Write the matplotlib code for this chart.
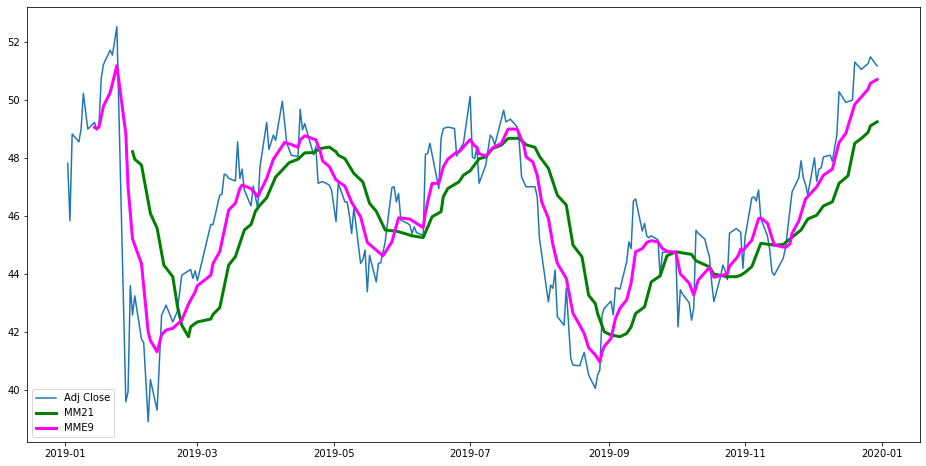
import matplotlib
matplotlib.use('Agg')
import matplotlib.pyplot as plt
import matplotlib.dates as mdates
import pandas as pd

# Adj Close (2019)
close_dates = [
    '2019-01-02', '2019-01-03', '2019-01-04', '2019-01-07', '2019-01-08', '2019-01-09', '2019-01-11',
    '2019-01-14', '2019-01-15', '2019-01-16', '2019-01-17', '2019-01-18', '2019-01-21', '2019-01-22',
    '2019-01-24', '2019-01-28', '2019-01-29', '2019-01-30', '2019-01-31', '2019-02-01', '2019-02-04',
    '2019-02-05', '2019-02-07', '2019-02-08', '2019-02-11', '2019-02-13', '2019-02-15', '2019-02-18',
    '2019-02-20', '2019-02-22', '2019-02-26', '2019-02-27', '2019-02-28', '2019-03-01', '2019-03-07',
    '2019-03-08', '2019-03-11', '2019-03-12', '2019-03-13', '2019-03-14', '2019-03-15', '2019-03-18',
    '2019-03-19', '2019-03-20', '2019-03-21', '2019-03-22', '2019-03-25', '2019-03-26', '2019-03-28',
    '2019-03-29', '2019-04-01', '2019-04-02', '2019-04-04', '2019-04-05', '2019-04-08', '2019-04-10',
    '2019-04-12', '2019-04-15', '2019-04-16', '2019-04-17', '2019-04-18', '2019-04-22', '2019-04-23',
    '2019-04-24', '2019-04-26', '2019-04-29', '2019-04-30', '2019-05-02', '2019-05-03', '2019-05-06',
    '2019-05-07', '2019-05-08', '2019-05-09', '2019-05-10', '2019-05-13', '2019-05-14', '2019-05-15',
    '2019-05-16', '2019-05-17', '2019-05-20', '2019-05-21', '2019-05-22', '2019-05-24', '2019-05-27',
    '2019-05-28', '2019-05-29', '2019-05-30', '2019-05-31', '2019-06-03', '2019-06-04', '2019-06-05',
    '2019-06-06', '2019-06-07', '2019-06-10', '2019-06-11', '2019-06-12', '2019-06-13', '2019-06-17',
    '2019-06-18', '2019-06-19', '2019-06-21', '2019-06-24', '2019-06-25', '2019-06-26', '2019-06-28',
    '2019-07-01', '2019-07-02', '2019-07-03', '2019-07-04', '2019-07-05', '2019-07-08', '2019-07-10',
    '2019-07-11', '2019-07-12', '2019-07-16', '2019-07-17', '2019-07-19', '2019-07-22', '2019-07-23',
    '2019-07-24', '2019-07-26', '2019-07-29', '2019-07-30', '2019-07-31', '2019-08-01', '2019-08-05',
    '2019-08-06', '2019-08-07', '2019-08-08', '2019-08-09', '2019-08-12', '2019-08-13', '2019-08-15',
    '2019-08-16', '2019-08-19', '2019-08-21', '2019-08-23', '2019-08-26', '2019-08-27', '2019-08-28',
    '2019-08-29', '2019-08-30', '2019-09-02', '2019-09-03', '2019-09-04', '2019-09-05', '2019-09-06',
    '2019-09-09', '2019-09-10', '2019-09-11', '2019-09-12', '2019-09-13', '2019-09-16', '2019-09-17',
    '2019-09-18', '2019-09-19', '2019-09-20', '2019-09-23', '2019-09-24', '2019-09-25', '2019-09-26',
    '2019-09-27', '2019-09-30', '2019-10-01', '2019-10-02', '2019-10-03', '2019-10-04', '2019-10-07',
    '2019-10-08', '2019-10-09', '2019-10-10', '2019-10-11', '2019-10-14', '2019-10-15', '2019-10-16',
    '2019-10-17', '2019-10-18', '2019-10-21', '2019-10-22', '2019-10-23', '2019-10-24', '2019-10-25',
    '2019-10-28', '2019-10-29', '2019-10-30', '2019-10-31', '2019-11-01', '2019-11-04', '2019-11-05',
    '2019-11-06', '2019-11-07', '2019-11-08', '2019-11-11', '2019-11-12', '2019-11-13', '2019-11-14',
    '2019-11-18', '2019-11-19', '2019-11-22', '2019-11-25', '2019-11-26', '2019-11-27', '2019-11-28',
    '2019-11-29', '2019-12-02', '2019-12-03', '2019-12-04', '2019-12-05', '2019-12-06', '2019-12-09',
    '2019-12-10', '2019-12-12', '2019-12-13', '2019-12-16', '2019-12-19', '2019-12-20', '2019-12-23',
    '2019-12-26', '2019-12-27', '2019-12-30',
]
close_values = [
    47.81, 45.83, 48.82, 48.55, 49.00, 50.22, 48.99,
    49.22, 48.96, 49.13, 50.74, 51.22, 51.71, 51.54,
    52.52, 39.59, 39.93, 43.59, 42.58, 43.24, 41.75,
    41.62, 38.90, 40.35, 39.30, 42.57, 42.92, 42.34,
    42.69, 43.95, 44.15, 43.84, 44.10, 43.76, 45.70,
    45.70, 46.71, 46.75, 47.44, 47.40, 47.29, 47.20,
    48.55, 47.29, 47.61, 46.89, 46.34, 47.03, 46.25,
    47.69, 49.22, 48.29, 48.78, 48.60, 49.95, 48.50,
    48.09, 48.04, 49.67, 48.96, 49.18, 48.10, 48.39,
    47.12, 47.18, 47.06, 46.89, 45.80, 47.12, 46.48,
    46.48, 46.02, 45.39, 46.28, 44.36, 44.48, 44.82,
    43.38, 44.64, 43.72, 44.36, 44.38, 45.10, 46.97,
    47.00, 46.48, 46.77, 45.85, 45.74, 45.68, 45.39,
    45.62, 45.42, 45.33, 48.12, 48.15, 48.50, 46.94,
    48.67, 49.01, 49.06, 49.01, 48.06, 48.24, 48.50,
    50.12, 48.03, 47.97, 48.36, 47.12, 47.75, 48.78,
    48.69, 48.44, 49.64, 49.24, 49.33, 49.07, 48.50,
    47.34, 47.00, 47.00, 47.00, 46.66, 45.22, 43.03,
    43.61, 43.50, 44.13, 42.52, 42.23, 43.50, 41.08,
    40.85, 40.83, 41.29, 40.51, 40.05, 40.51, 40.68,
    42.58, 42.81, 43.06, 42.58, 43.52, 43.50, 43.47,
    44.41, 45.10, 44.87, 46.51, 46.58, 45.47, 45.74,
    45.30, 45.24, 45.31, 45.17, 43.90, 44.74, 44.74,
    44.74, 44.74, 44.74, 42.17, 43.45, 43.30, 43.00,
    42.40, 42.81, 45.50, 45.40, 45.19, 44.87, 44.60,
    43.72, 43.04, 43.90, 44.30, 44.13, 43.80, 45.40,
    45.56, 45.50, 45.43, 44.19, 45.28, 46.62, 46.65,
    46.51, 46.89, 45.91, 45.30, 44.82, 44.07, 43.95,
    44.53, 44.87, 46.83, 47.31, 47.90, 47.31, 47.08,
    46.72, 48.00, 47.18, 47.61, 47.65, 48.03, 48.09,
    47.88, 48.78, 50.28, 49.91, 49.99, 51.30, 51.05,
    51.25, 51.48, 51.17,
]

# MM21 (21-day moving average)
mm21_dates = [
    '2019-01-31', '2019-02-01', '2019-02-04', '2019-02-08', '2019-02-11', '2019-02-14', '2019-02-18',
    '2019-02-20', '2019-02-22', '2019-02-25', '2019-02-26', '2019-02-27', '2019-03-01', '2019-03-07',
    '2019-03-08', '2019-03-11', '2019-03-15', '2019-03-18', '2019-03-22', '2019-03-25', '2019-03-27',
    '2019-03-29', '2019-04-01', '2019-04-05', '2019-04-08', '2019-04-11', '2019-04-15', '2019-04-18',
    '2019-04-22', '2019-04-25', '2019-04-29', '2019-05-02', '2019-05-03', '2019-05-06', '2019-05-10',
    '2019-05-14', '2019-05-17', '2019-05-20', '2019-05-24', '2019-05-29', '2019-05-31', '2019-06-05',
    '2019-06-10', '2019-06-14', '2019-06-18', '2019-06-19', '2019-06-21', '2019-06-26', '2019-06-28',
    '2019-07-01', '2019-07-05', '2019-07-08', '2019-07-11', '2019-07-15', '2019-07-18', '2019-07-23',
    '2019-07-26', '2019-07-30', '2019-08-01', '2019-08-05', '2019-08-09', '2019-08-13', '2019-08-16',
    '2019-08-20', '2019-08-23', '2019-08-26', '2019-08-27', '2019-08-30', '2019-09-02', '2019-09-06',
    '2019-09-09', '2019-09-11', '2019-09-13', '2019-09-17', '2019-09-20', '2019-09-24', '2019-09-27',
    '2019-10-01', '2019-10-04', '2019-10-08', '2019-10-10', '2019-10-16', '2019-10-18', '2019-10-24',
    '2019-10-28', '2019-10-30', '2019-11-01', '2019-11-04', '2019-11-08', '2019-11-14', '2019-11-18',
    '2019-11-21', '2019-11-26', '2019-11-29', '2019-12-03', '2019-12-06', '2019-12-10', '2019-12-13',
    '2019-12-17', '2019-12-20', '2019-12-23', '2019-12-26', '2019-12-27', '2019-12-30',
]
mm21_values = [
    48.21, 47.95, 47.75, 46.08, 45.57, 44.30, 43.90,
    42.92, 42.23, 41.83, 42.17, 42.23, 42.34, 42.44,
    42.60, 42.83, 44.30, 44.59, 45.51, 45.70, 46.16,
    46.37, 46.62, 47.34, 47.58, 47.83, 47.95, 48.17,
    48.18, 48.32, 48.37, 48.21, 48.09, 47.97, 47.46,
    47.17, 46.43, 46.16, 45.51, 45.47, 45.43, 45.31,
    45.25, 45.97, 46.14, 46.66, 46.94, 47.17, 47.40,
    47.55, 47.97, 48.03, 48.32, 48.44, 48.67, 48.67,
    48.45, 48.36, 48.05, 47.64, 46.71, 46.37, 44.99,
    44.59, 43.26, 42.97, 42.63, 42.00, 41.89, 41.83,
    41.94, 42.17, 42.63, 42.86, 43.72, 43.93, 44.62,
    44.76, 44.72, 44.67, 44.45, 44.24, 43.99, 43.90,
    43.90, 43.95, 44.05, 44.25, 45.05, 44.99, 45.01,
    45.20, 45.51, 45.89, 46.02, 46.34, 46.48, 47.12,
    47.38, 48.50, 48.67, 48.88, 49.10, 49.24,
]

# MME9 (9-day exponential moving average)
mme9_dates = [
    '2019-01-14', '2019-01-15', '2019-01-16', '2019-01-18', '2019-01-21', '2019-01-24', '2019-01-28',
    '2019-01-29', '2019-01-31', '2019-02-04', '2019-02-07', '2019-02-08', '2019-02-11', '2019-02-13',
    '2019-02-15', '2019-02-18', '2019-02-22', '2019-02-25', '2019-02-28', '2019-03-01', '2019-03-07',
    '2019-03-08', '2019-03-11', '2019-03-15', '2019-03-18', '2019-03-20', '2019-03-21', '2019-03-25',
    '2019-03-28', '2019-04-01', '2019-04-04', '2019-04-09', '2019-04-12', '2019-04-15', '2019-04-16',
    '2019-04-18', '2019-04-23', '2019-04-25', '2019-04-26', '2019-04-29', '2019-05-02', '2019-05-06',
    '2019-05-09', '2019-05-13', '2019-05-16', '2019-05-20', '2019-05-23', '2019-05-27', '2019-05-30',
    '2019-06-04', '2019-06-07', '2019-06-10', '2019-06-11', '2019-06-12', '2019-06-14', '2019-06-17',
    '2019-06-19', '2019-06-21', '2019-06-25', '2019-06-26', '2019-06-28', '2019-07-01', '2019-07-03',
    '2019-07-04', '2019-07-05', '2019-07-08', '2019-07-11', '2019-07-15', '2019-07-17', '2019-07-18',
    '2019-07-22', '2019-07-25', '2019-07-26', '2019-07-29', '2019-07-31', '2019-08-02', '2019-08-05',
    '2019-08-07', '2019-08-09', '2019-08-13', '2019-08-16', '2019-08-19', '2019-08-21', '2019-08-23',
    '2019-08-26', '2019-08-28', '2019-08-29', '2019-08-30', '2019-09-02', '2019-09-04', '2019-09-06',
    '2019-09-09', '2019-09-11', '2019-09-13', '2019-09-16', '2019-09-18', '2019-09-20', '2019-09-23',
    '2019-09-25', '2019-09-27', '2019-10-01', '2019-10-03', '2019-10-07', '2019-10-09', '2019-10-11',
    '2019-10-16', '2019-10-18', '2019-10-21', '2019-10-24', '2019-10-25', '2019-10-28', '2019-10-29',
    '2019-10-30', '2019-10-31', '2019-11-04', '2019-11-07', '2019-11-08', '2019-11-11', '2019-11-14',
    '2019-11-19', '2019-11-21', '2019-11-22', '2019-11-25', '2019-11-28', '2019-12-03', '2019-12-06',
    '2019-12-10', '2019-12-13', '2019-12-16', '2019-12-20', '2019-12-23', '2019-12-26', '2019-12-27',
    '2019-12-30',
]
mme9_values = [
    49.05, 49.00, 49.06, 49.78, 50.25, 51.18, 48.82,
    47.00, 45.20, 44.35, 42.00, 41.70, 41.31, 41.90,
    42.06, 42.12, 42.40, 42.95, 43.38, 43.59, 43.95,
    44.36, 44.76, 46.20, 46.43, 46.94, 47.06, 46.94,
    46.66, 47.29, 47.95, 48.53, 48.46, 48.36, 48.62,
    48.76, 48.62, 48.20, 47.89, 47.70, 47.24, 47.02,
    46.46, 45.97, 45.08, 44.82, 44.62, 45.10, 45.93,
    45.89, 45.74, 45.59, 46.10, 46.48, 47.12, 47.12,
    47.69, 47.95, 48.20, 48.20, 48.37, 48.63, 48.41,
    48.37, 48.14, 48.06, 48.34, 48.50, 48.84, 48.99,
    48.99, 48.44, 48.03, 47.86, 47.40, 46.48, 45.91,
    45.01, 44.36, 43.84, 42.63, 42.23, 41.94, 41.45,
    41.20, 40.96, 41.30, 41.50, 41.77, 42.46, 42.81,
    43.10, 43.68, 44.76, 44.87, 45.08, 45.14, 45.10,
    44.87, 44.78, 44.74, 44.00, 43.67, 43.27, 43.78,
    44.22, 43.88, 43.93, 44.00, 44.26, 44.53, 44.64,
    44.85, 44.80, 45.16, 45.90, 45.93, 45.74, 44.99,
    44.91, 45.03, 45.40, 45.82, 46.58, 47.00, 47.40,
    47.61, 48.53, 48.84, 49.84, 50.10, 50.37, 50.57,
    50.70,
]

close = pd.Series(close_values, index=pd.to_datetime(close_dates))
mm21 = pd.Series(mm21_values, index=pd.to_datetime(mm21_dates))
mme9 = pd.Series(mme9_values, index=pd.to_datetime(mme9_dates))

# Figure sized to 926x466 px
fig = plt.figure(figsize=(926 / 72, 466 / 72), dpi=72)
ax = fig.add_axes([27 / 926, 24 / 466, 893 / 926, 435 / 466])

ax.plot(close.index, close.values, label='Adj Close')
ax.plot(mm21.index, mm21.values, color='green', linewidth=3, label='MM21')
ax.plot(mme9.index, mme9.values, color='magenta', linewidth=3, label='MME9')

start = pd.Timestamp('2019-01-01')
ax.set_xlim(start - pd.Timedelta(days=17.2), start + pd.Timedelta(days=382.2))
ax.set_ylim(38.2, 53.2)
ax.xaxis.set_major_locator(mdates.MonthLocator(bymonth=[1, 3, 5, 7, 9, 11]))
ax.xaxis.set_major_formatter(mdates.DateFormatter('%Y-%m'))
ax.legend(loc='lower left')

fig.savefig('out.png', dpi=72)
